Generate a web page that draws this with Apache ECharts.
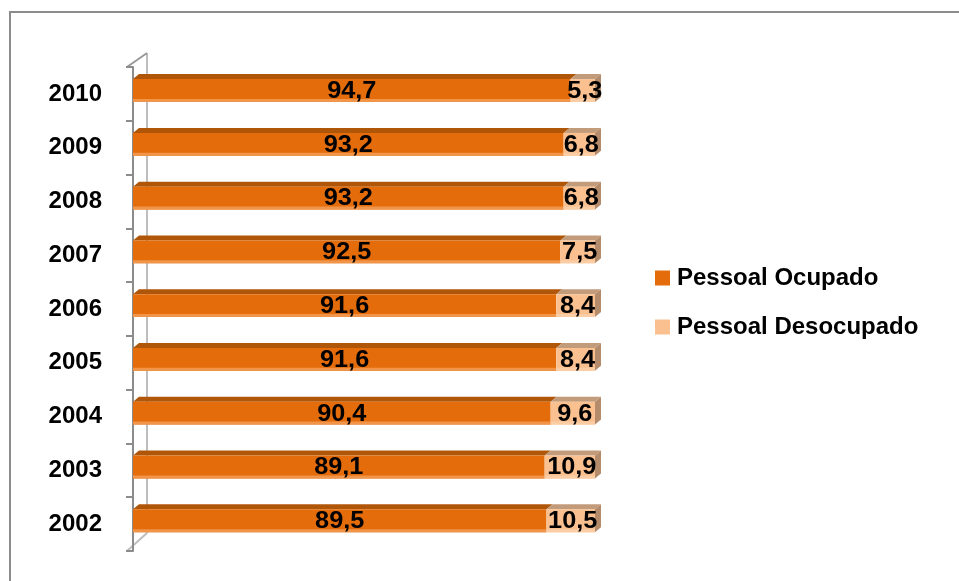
<!DOCTYPE html>
<html>
<head>
<meta charset="utf-8">
<script src="https://cdn.jsdelivr.net/npm/echarts@6/dist/echarts.min.js"></script>
<style>
  html, body { margin: 0; padding: 0; background: #fff; }
  #chart { width: 959px; height: 581px; }
</style>
</head>
<body>
<div id="chart"></div>
<script>
// Categories (bottom to top on the vertical axis)
const years = ['2002', '2003', '2004', '2005', '2006', '2007', '2008', '2009', '2010'];
// Shares in percent
const ocupado = [89.5, 89.1, 90.4, 91.6, 91.6, 92.5, 93.2, 93.2, 94.7];
const desocupado = [10.5, 10.9, 9.6, 8.4, 8.4, 7.5, 6.8, 6.8, 5.3];
const seriesNames = ['Pessoal Ocupado', 'Pessoal Desocupado'];

const fmt = v => v.toFixed(1).replace('.', ',');

// Layout of the plot area
const GRID = { left: 133, top: 67, width: 462, height: 484 };
const DEPTH_X = 6, DEPTH_Y = 5;
const FONT = '"Liberation Sans", Arial, sans-serif';

const palettes = [
  { front: '#E46C0A', top: '#B05608', strip: '#F0954A', side: '#B05608' },
  { front: '#FAC090', top: '#C29B7A', strip: '#FBCDA4', side: '#B48C6C' }
];

// [start, end, categoryIndex] for each stacked segment
const occData = ocupado.map((v, i) => [0, v, i]);
const desData = desocupado.map((v, i) => [ocupado[i], ocupado[i] + v, i]);

function makeRender(pal, withSide) {
  return function (params, api) {
    const start = api.value(0), end = api.value(1), idx = api.value(2);
    const p0 = api.coord([start, idx]);
    const p1 = api.coord([end, idx]);
    const band = api.size([0, 1])[1];
    const cy = p0[1];
    const yTop = cy - band * 0.275;
    const yBot = cy + band * 0.15;
    const x0 = p0[0], x1 = p1[0];
    const children = [
      { type: 'polygon', shape: { points: [[x0, yTop], [x1, yTop], [x1 + DEPTH_X, yTop - DEPTH_Y], [x0 + DEPTH_X, yTop - DEPTH_Y]] },
        style: { fill: pal.top } },
      { type: 'rect', shape: { x: x0, y: yTop, width: x1 - x0, height: yBot - yTop },
        style: { fill: pal.front } },
      { type: 'rect', shape: { x: x0, y: yBot - 3, width: x1 - x0, height: 3 },
        style: { fill: pal.strip } }
    ];
    if (withSide) {
      children.push({ type: 'polygon',
        shape: { points: [[x1, yTop], [x1 + DEPTH_X, yTop - DEPTH_Y], [x1 + DEPTH_X, yBot - DEPTH_Y], [x1, yBot]] },
        style: { fill: pal.side } });
    }
    const lx = (x0 + x1) / 2 + (withSide ? 2 : 0);
    const ly = (yTop + yBot) / 2 + 1;
    children.push({ type: 'text', z2: 10, x: lx, y: ly, scaleX: 1.1,
      style: { text: fmt(end - start), x: 0, y: 0,
        align: 'center', verticalAlign: 'middle', fill: '#000',
        font: 'bold 23px ' + FONT } });
    return { type: 'group', children };
  };
}

const chart = echarts.init(document.getElementById('chart'));
chart.setOption({
  backgroundColor: '#fff',
  animation: false,
  grid: GRID,
  legend: {
    orient: 'vertical', left: 655, top: 265, itemGap: 23, padding: 0,
    itemWidth: 15, itemHeight: 15, icon: 'rect',
    textStyle: { fontFamily: FONT, fontWeight: 'bold', fontSize: 24, color: '#000', lineHeight: 24, padding: [2, 0, 0, 2] },
    data: seriesNames
  },
  xAxis: { type: 'value', min: 0, max: 100, show: false },
  yAxis: {
    type: 'category', data: years, offset: 6,
    axisLine: { show: true, lineStyle: { color: '#8C8C8C', width: 2 } },
    axisTick: { show: true, length: 7, lineStyle: { color: '#8C8C8C', width: 2 } },
    axisLabel: { margin: 25, color: '#000', fontFamily: FONT, fontWeight: 'bold', fontSize: 24, padding: [3, 0, 0, 0] },
    splitLine: { show: false }
  },
  series: [
    { name: seriesNames[0], type: 'custom', renderItem: makeRender(palettes[0], false),
      itemStyle: { color: palettes[0].front }, encode: { x: [0, 1], y: 2 }, data: occData },
    { name: seriesNames[1], type: 'custom', renderItem: makeRender(palettes[1], true),
      itemStyle: { color: palettes[1].front }, encode: { x: [0, 1], y: 2 }, data: desData }
  ]
});

// Back wall of the 3D axis and the outer frame
const axisX = GRID.left - 6;
const wallX = axisX + 20;
const gTop = GRID.top, gBot = GRID.top + GRID.height;
chart.setOption({
  graphic: [
    { type: 'rect', z: -1, shape: { x: 10, y: 12, width: 1000, height: 1000 },
      style: { fill: null, stroke: '#8C8C8C', lineWidth: 2 } },
    { type: 'line', z: 0, shape: { x1: wallX, y1: gTop - 14, x2: wallX, y2: gBot - 18 },
      style: { stroke: '#BEBEBE', lineWidth: 2 } },
    { type: 'line', z: 0, shape: { x1: axisX, y1: gTop, x2: wallX, y2: gTop - 14 },
      style: { stroke: '#9A9A9A', lineWidth: 2 } },
    { type: 'line', z: 0, shape: { x1: axisX, y1: gBot, x2: wallX, y2: gBot - 18 },
      style: { stroke: '#BEBEBE', lineWidth: 2 } }
  ]
});
</script>
</body>
</html>
